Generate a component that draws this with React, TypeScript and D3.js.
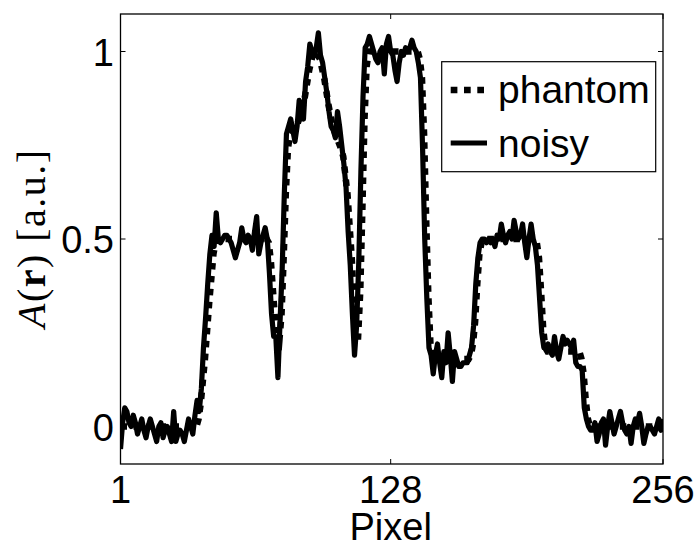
import React, { useEffect } from "react";
import * as d3 from "d3";

// noisy reconstruction, one value per pixel (1..256)
const noisy: number[] = [
  -0.06, 0.01, 0.05, 0.04, 0.01, 0.0, 0.03, 0.01, -0.02, 0.0,
  0.02, -0.01, -0.03, 0.0, 0.02, 0.0, -0.02, -0.04, 0.0, 0.01,
  -0.03, -0.01, 0.0, -0.02, -0.04, 0.04, -0.04, -0.02, -0.01, -0.02,
  -0.04, -0.01, 0.02, 0.0, -0.02, 0.03, 0.07, 0.04, 0.1, 0.21,
  0.29, 0.38, 0.46, 0.51, 0.48, 0.57, 0.5, 0.49, 0.5, 0.51,
  0.51, 0.5, 0.49, 0.47, 0.45, 0.47, 0.49, 0.53, 0.5, 0.49,
  0.51, 0.5, 0.47, 0.52, 0.56, 0.46, 0.49, 0.51, 0.53, 0.5,
  0.41, 0.3, 0.24, 0.24, 0.13, 0.28, 0.42, 0.62, 0.78, 0.8,
  0.82, 0.79, 0.76, 0.8, 0.87, 0.84, 0.82, 0.92, 0.96, 1.02,
  1.0, 0.99, 1.01, 1.05, 0.99, 0.97, 0.93, 0.89, 0.84, 0.8,
  0.79, 0.77, 0.84, 0.8, 0.75, 0.7, 0.64, 0.52, 0.43, 0.3,
  0.19, 0.27, 0.44, 0.68, 0.88, 1.01, 1.02, 1.04, 1.02, 1.0,
  0.98, 0.97, 1.0, 1.01, 0.94, 1.02, 1.04, 1.0, 0.99, 0.95,
  0.92, 0.97, 1.0, 0.99, 1.01, 1.0, 1.01, 1.03, 1.01, 1.0,
  0.97, 0.93, 0.74, 0.5, 0.34, 0.21, 0.19, 0.14, 0.19, 0.22,
  0.17, 0.13, 0.2, 0.17, 0.25, 0.19, 0.12, 0.2, 0.18, 0.16,
  0.16, 0.17, 0.17, 0.17, 0.19, 0.21, 0.27, 0.38, 0.45, 0.49,
  0.5, 0.5, 0.49, 0.5, 0.49, 0.5, 0.48, 0.51, 0.5, 0.54,
  0.51, 0.49, 0.51, 0.52, 0.5, 0.55, 0.52, 0.5, 0.51, 0.54,
  0.49, 0.45, 0.5, 0.54, 0.5, 0.48, 0.43, 0.34, 0.25, 0.21,
  0.21, 0.22, 0.2, 0.19, 0.24, 0.2, 0.18, 0.21, 0.24, 0.22,
  0.23, 0.22, 0.21, 0.23, 0.17, 0.16, 0.16, 0.15, 0.05, 0.02,
  0.0, -0.01, -0.01, 0.01, -0.04, -0.02, 0.01, 0.02, -0.05, 0.0,
  0.04, 0.01, -0.02, 0.0, 0.02, 0.04, 0.01, -0.01, -0.02, 0.0,
  -0.045, 0.0, 0.02, 0.01, 0.035, 0.0, -0.045, -0.02, 0.0, 0.0,
  -0.01, -0.02, 0.0, 0.02, -0.01, 0.02,
];

// phantom profile, read at its corners (sits a little right of the noisy edges)
const phantomPixel = [
  1, 36.7, 37.7, 38.7, 40.7, 42.7, 44.7, 45.7, 46.7, 69.7, 70.7, 71.7, 72.7, 73.7,
  74.7, 75.7, 76.7, 77.7, 78.7, 79.7, 80.7, 83.7, 85.7, 87.7, 89.7, 91.7, 92.7, 94.7,
  96.7, 98.7, 100.7, 102.7, 104.7, 105.7, 107.7, 109.7, 110.7, 111.7, 112.7, 113.7,
  114.7, 115.7, 116.7, 117.7, 140.7, 141.7, 142.7, 143.7, 144.7, 145.7, 146.7, 147.7,
  148.7, 164.7, 165.7, 166.7, 167.7, 168.7, 169.7, 170.7, 171.7, 195.7, 196.7, 197.7,
  198.7, 199.7, 200.7, 201.7, 216.7, 217.7, 218.7, 219.7, 220.7, 221.7, 256,
];
const phantomValue = [
  0, 0, 0.02, 0.06, 0.18, 0.33, 0.46, 0.49, 0.5, 0.5, 0.49, 0.44, 0.36, 0.28, 0.24,
  0.23, 0.3, 0.45, 0.62, 0.74, 0.78, 0.8, 0.83, 0.88, 0.95, 1.0, 1.0, 0.98, 0.93,
  0.86, 0.8, 0.77, 0.74, 0.72, 0.62, 0.45, 0.33, 0.24, 0.24, 0.36, 0.58, 0.82, 0.96,
  1.0, 1.0, 0.98, 0.93, 0.78, 0.55, 0.35, 0.22, 0.19, 0.18, 0.18, 0.19, 0.22, 0.28,
  0.38, 0.46, 0.49, 0.5, 0.5, 0.49, 0.45, 0.36, 0.26, 0.21, 0.2, 0.2, 0.18, 0.14,
  0.07, 0.02, 0, 0,
];

const xTicks = [1, 128, 256];
const yTicks = [0, 0.5, 1];
const yTickLabels = ["0", "0.5", "1"];
const legendNames = ["phantom", "noisy"];

const W = 699;
const H = 546;
const margin = { top: 14, right: 36, bottom: 82, left: 120.5 };
const sans = "'Liberation Sans', Arial, Helvetica, sans-serif";

const App: React.FC = () => {
  useEffect(() => {
    document.body.style.margin = "0";
  }, []);

  const x = d3.scaleLinear().domain([1, 256]).range([margin.left, W - margin.right]);
  const y = d3.scaleLinear().domain([-0.1, 1.1]).range([H - margin.bottom, margin.top]);

  const noisyPts: [number, number][] = noisy.map((v, i) => [i + 1, v]);
  const phantomPts: [number, number][] = phantomPixel.map((p, i) => [p, phantomValue[i]]);

  const line = d3
    .line<[number, number]>()
    .x((d) => x(d[0]))
    .y((d) => y(d[1]));

  const left = x(1);
  const right = x(256);
  const top = y(1.1);
  const bottom = y(-0.1);
  const tk = 5;

  return (
    <svg width={W} height={H} style={{ display: "block", background: "#fff" }}>
      <defs>
        <clipPath id="plot">
          <rect x={left} y={top} width={right - left} height={bottom - top} />
        </clipPath>
      </defs>

      <g clipPath="url(#plot)">
        <path
          d={line(phantomPts) || ""}
          fill="none"
          stroke="#000"
          strokeWidth={6.5}
          strokeDasharray="6.5 6.5"
          strokeLinejoin="miter"
        />
        <path
          d={line(noisyPts) || ""}
          fill="none"
          stroke="#000"
          strokeWidth={5.2}
          strokeLinejoin="round"
        />
      </g>

      {/* axes box */}
      <rect x={left} y={top} width={right - left} height={bottom - top} fill="none" stroke="#000" strokeWidth={1.3} />

      {xTicks.map((t) => (
        <g key={"x" + t}>
          <line x1={x(t)} x2={x(t)} y1={bottom} y2={bottom - tk} stroke="#000" />
          <line x1={x(t)} x2={x(t)} y1={top} y2={top + tk} stroke="#000" />
          <text x={x(t)} y={503} textAnchor="middle" fontFamily={sans} fontSize={38}>
            {t}
          </text>
        </g>
      ))}

      {yTicks.map((t, i) => (
        <g key={"y" + t}>
          <line x1={left} x2={left + tk} y1={y(t)} y2={y(t)} stroke="#000" />
          <line x1={right} x2={right - tk} y1={y(t)} y2={y(t)} stroke="#000" />
          <text x={114} y={y(t) + 14} textAnchor="end" fontFamily={sans} fontSize={38}>
            {yTickLabels[i]}
          </text>
        </g>
      ))}

      <text x={x(128)} y={540} textAnchor="middle" fontFamily={sans} fontSize={38}>
        Pixel
      </text>

      <text
        transform="translate(45,239) rotate(-90)"
        textAnchor="middle"
        fontFamily="'Liberation Serif', 'Times New Roman', serif"
        fontSize={40}
        textLength={178}
        lengthAdjust="spacing"
      >
        <tspan fontStyle="italic">A</tspan>
        <tspan>(</tspan>
        <tspan fontWeight="bold">r</tspan>
        <tspan>) [a.u.]</tspan>
      </text>

      {/* legend */}
      <g>
        <rect x={441.7} y={61.7} width={214} height={110} fill="#fff" stroke="#000" strokeWidth={1.2} />
        <line x1={450.7} x2={484} y1={90} y2={90} stroke="#000" strokeWidth={6.5} strokeDasharray="6.7 6.6" />
        <line x1={450.7} x2={487} y1={143} y2={143} stroke="#000" strokeWidth={5.2} />
        <text x={498} y={103} fontFamily={sans} fontSize={39}>
          {legendNames[0]}
        </text>
        <text x={498} y={157} fontFamily={sans} fontSize={39}>
          {legendNames[1]}
        </text>
      </g>
    </svg>
  );
};

export default App;
